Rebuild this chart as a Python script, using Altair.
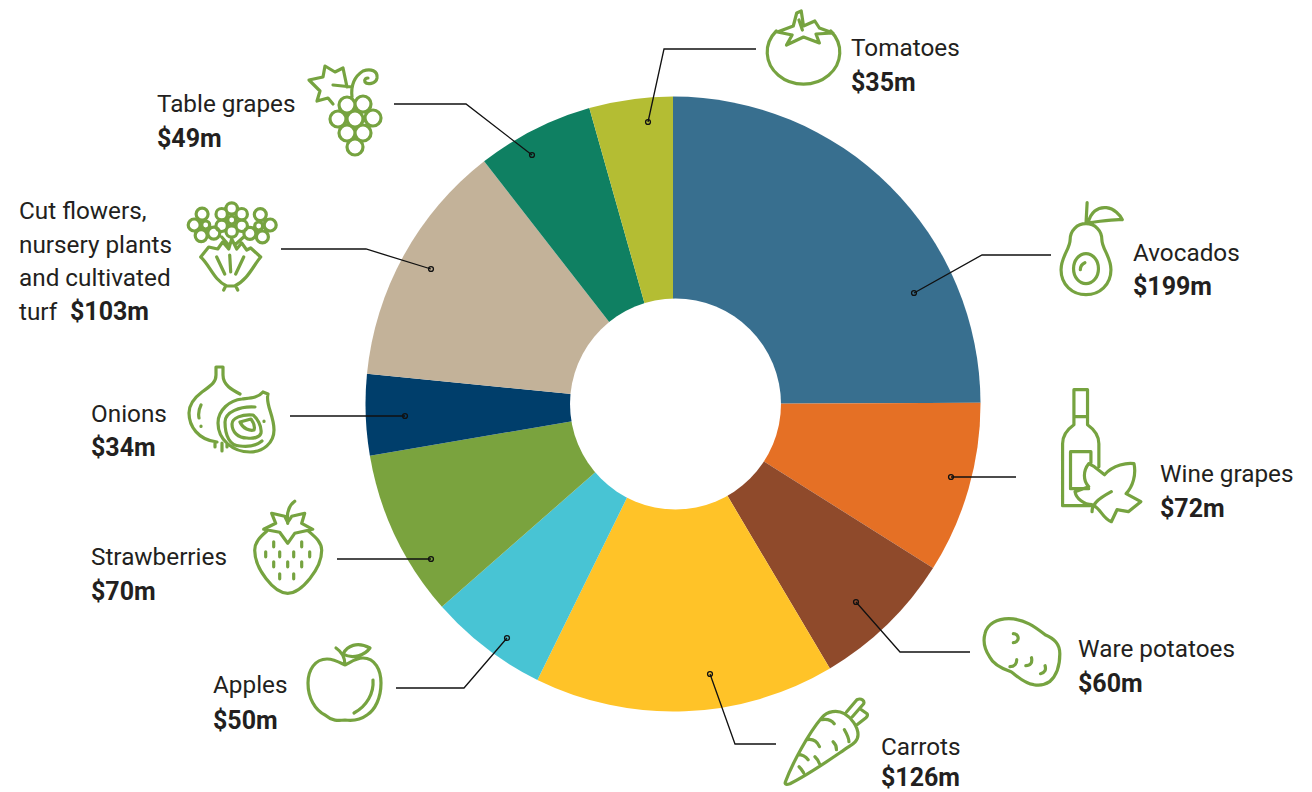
import math
import re
import altair as alt
import pandas as pd

# Segments, clockwise from twelve o'clock
crops = ["Avocados", "Wine grapes", "Ware potatoes", "Carrots", "Apples",
         "Strawberries", "Onions", "Cut flowers", "Table grapes", "Tomatoes"]
values = [199, 72, 60, 126, 50, 70, 34, 103, 49, 35]
colours = ["#386f8f", "#e57025", "#8f4a2b", "#ffc328", "#48c4d4",
           "#7aa33e", "#003e6b", "#c3b299", "#0f8062", "#b4bd33"]

# Text rows: string, left edge, baseline
regular_text = [
    ("Tomatoes", 851, 56), ("Avocados", 1133, 261), ("Wine grapes", 1160, 482),
    ("Ware potatoes", 1078, 657), ("Carrots", 881, 755), ("Apples", 213, 693),
    ("Strawberries", 91, 565), ("Onions", 91, 422), ("Table grapes", 157, 112),
    ("Cut flowers,", 19, 219), ("nursery plants", 19, 253),
    ("and cultivated", 19, 286), ("turf", 19, 320),
]
bold_text = [
    ("$35m", 851, 91), ("$199m", 1133, 295), ("$72m", 1160, 517),
    ("$60m", 1078, 692), ("$126m", 881, 786), ("$50m", 213, 729),
    ("$70m", 91, 600), ("$34m", 91, 456), ("$49m", 157, 147), ("$103m", 70, 320),
]

# Leader lines, each ending at the ring dot
leaders = {
    "Tomatoes": [(756, 49), (664, 49), (648, 122)],
    "Table grapes": [(394, 104), (466, 104), (532, 155)],
    "Cut flowers": [(281, 249), (366, 249), (431, 269)],
    "Onions": [(290, 416), (405, 416)],
    "Strawberries": [(337, 559), (431, 559)],
    "Apples": [(396, 688), (464, 688), (507, 638)],
    "Carrots": [(776, 744), (735, 744), (710, 674)],
    "Ware potatoes": [(970, 652), (900, 652), (856, 602)],
    "Wine grapes": [(1016, 477), (951, 477)],
    "Avocados": [(1051, 255), (982, 255), (914, 293)],
}


def circle(cx, cy, r):
    return f"M{cx - r} {cy} A{r} {r} 0 1 0 {cx + r} {cy} A{r} {r} 0 1 0 {cx - r} {cy} Z "


def flower(cx, cy, reach, petal, core, angles):
    d = circle(cx, cy, core)
    for deg in angles:
        a = math.radians(deg)
        d += circle(round(cx + reach * math.cos(a), 1), round(cy + reach * math.sin(a), 1), petal)
    return d


def widen(path, k):
    """Stretch an icon path horizontally by k."""
    out = []
    tokens = re.findall(r"[A-Za-z]|-?\d+\.?\d*", path)
    i = 0
    while i < len(tokens):
        cmd = tokens[i]
        i += 1
        count = {"M": 2, "L": 2, "C": 6, "H": 1, "V": 1, "A": 7, "Z": 0}[cmd]
        args = [float(t) for t in tokens[i:i + count]]
        i += count
        if cmd in "MLC":
            args = [a * k if j % 2 == 0 else a for j, a in enumerate(args)]
        elif cmd == "H":
            args = [args[0] * k]
        elif cmd == "A":
            args[0] *= k
            args[5] *= k
        out.append(cmd + " ".join(f"{a:.2f}".rstrip("0").rstrip(".") for a in args))
    return " ".join(out)


WIDE = 1.134

tomato = widen("M-24 -19 A32 32 0 1 0 24 -19 "
               "M-23 -18 L-9 -24 L-6 -37 L-2 -39 L0 -24 L10 -29 L14 -22 L26 -17 L11 -16 L14 -7 "
               "L0 -13 L-15 -5 L-10 -15 Z M-4 -30 L-1 -20", WIDE)
avocado = widen("M0 -33 C8 -33 14 -26 14 -17 C14 -8 22 0 22 13 C22 28 12 38 0 38 "
                "C-12 38 -22 28 -22 13 C-22 0 -14 -8 -14 -17 C-14 -26 -8 -33 0 -33 Z "
                "M-11 12 A11 15 0 1 0 11 12 A11 15 0 1 0 -11 12 Z M-5 13 C-5 9 -3 7 -1 6 "
                "M1 -54 L0 -33 M2 -34 C4 -44 10 -50 18 -49 C25 -48 30 -42 32 -37 C24 -38 12 -35 2 -34 Z", WIDE)
wine = widen("M-23 -67 H-11 V-40 H-23 Z M-23 -40 V-32 C-28 -28 -33 -22 -33 -13 V49 H-7 "
             "M-11 -40 V-32 C-6 -28 -1 -22 -1 -13 V10 M-8 6 V-5 H-26 V32 H-10 "
             "M4 18 L-5 10 L-10 7 C-15 14 -15 24 -10 30 L-22 35 C-21 42 -14 48 -7 48 "
             "C0 50 2 62 10 65 L15 53 L25 55 L36 45 L23 37 C29 30 32 18 30 7 C24 6 12 8 4 18 Z "
             "M-7 55 C-7 48 -3 43 10 35", WIDE)
potato = widen("M-12 -33 C2 -33 12 -24 20 -17 C28 -13 33 -8 33 2 C33 14 30 24 24 30 "
               "C20 33 14 34 10 33 C2 32 -4 25 -10 20 C-18 17 -26 12 -29 5 C-33 -2 -35 -10 -33 -18 "
               "C-31 -28 -22 -33 -12 -33 Z "
               "M-8 -18 C-5 -18 -3 -15 -4 -12 C-5 -10 -7 -9 -8 -9 "
               "M-11 15 C-7 15 -5 12 -5 8 M3 14 C7 14 9 11 8 6 M16 22 C20 21 21 18 20 14", WIDE)
carrot = widen("M-34 40 C-28 22 -14 -8 -2 -24 C3 -31 12 -32 18 -28 C24 -24 30 -15 30 -7 C30 -1 26 2 22 5 "
               "C10 14 -12 32 -30 42 C-33 43 -35 43 -34 40 Z "
               "M20 -30 L29 -42 C33 -44 36 -41 35 -38 L25 -25 M33 -32 L38 -28 C39 -26 38 -25 37 -24 L28 -16 "
               "M-2 -22 C3 -23 7 -21 9 -18 M-15 -2 C-10 -3 -6 0 -4 5 M-23 13 C-20 13 -16 15 -14 18 "
               "M8 0 C10 2 11 5 11 8 M18 -12 C20 -8 22 -4 22 0 M-8 15 C-6 17 -5 19 -4 22 M-22 25 C-20 27 -19 29 -18 31", WIDE)
apple = ("M0 -25 C6 -28 11 -32 18 -32 C30 -32 36 -20 36 -7 C36 8 30 20 22 25 C14 31 7 31 0 30 "
         "C-7 31 -13 31 -20 25 C-30 20 -37 8 -37 -7 C-37 -20 -30 -31 -18 -31 C-11 -31 -6 -28 0 -25 Z "
         "M0 -25 C0 -33 -3 -38 -9 -42 M-2 -36 C2 -44 12 -49 25 -42 C20 -35 8 -30 -2 -36 Z "
         "M28 -10 C29 3 22 16 9 23")
strawberry = ("M-21 -22 C-28 -16 -33 -11 -33 -3 C-33 15 -14 40 0 40 C14 40 34 15 34 -3 C34 -11 28 -16 21 -22 "
              "M-24 -24 L-12 -30 L-16 -40 L-3 -37 L0 -31 L4 -37 L17 -40 L14 -30 L25 -24 L7 -20 L0 -10 L-8 -21 Z "
              "M0 -30 C-1 -38 0 -47 7 -52 "
              + " ".join(f"M{x} {y - 2.5} V{y + 2.5}" for x, y in
                         [(-14, -9), (14, -9), (-22, 1), (-8, 1), (6, 1), (22, 1),
                          (-14, 11), (0, 11), (14, 11), (-8, 23), (6, 23)]))
onion = ("M10 -16 C2 -20 -7 -25 -7 -35 V-43 H-14 V-35 C-14 -27 -20 -24 -28 -18 C-36 -12 -41 -6 -41 3 "
         "C-41 16 -32 30 -13 32 M-15 33 V37 M-8 33 V41 M-3 33 V37 "
         "M-29 -5 C-31 -1 -32 3 -31 8 M-29 16 V16.5 "
         "M33 -18 L38 -16 C35 -6 44 5 44 20 C44 33 33 42 20 42 C3 42 -12 30 -12 13 C-12 0 0 -10 12 -11 "
         "C20 -12 28 -12 33 -18 Z "
         "M25 -3 C10 -4 -5 2 -5 12 C-5 26 0 36 10 36 C18 37 26 36 32 31 "
         "M23 5 C12 4 2 8 2 14 C2 22 8 28 17 28 C24 29 30 27 31 23 C32 16 27 8 23 5 Z "
         "M10 12 L21 9 C24 13 25 17 24 20 C20 21 13 19 10 12 Z M34 11 V11.5")
flowers = (flower(-26, -20, 11.5, 6, 4, [45, 113, 180, 252])
           + flower(27, -19, 11.5, 6, 4, [278, 355, 71, 140])
           + flower(0, -25, 11.5, 5.7, 4, [30, 90, 150, 210, 270, 330])
           + "M-31 12 L-23 2 L-14 4 L-9 -3 L-3 4 L0 -6 L5 4 L10 -2 L15 5 L19 3 L29 12 "
             "C22 20 16 35 3 41 H-5 C-18 35 -22 20 -31 12 Z "
             "M-15 12 L-7 29 M-2 10 L-1 27 M12 12 L4 29 M-6 41 L-8 45 M4 41 L6 45 "
             "M-10 -8 L-3 0 M12 -8 L3 0")
grapes = ("".join(circle(x, y, 8) for x, y in
                  [(-8, -5), (8, -6), (-17, 9), (0, 9), (18, 8), (-8, 23), (8, 23), (0, 37)])
          + "M-22 -6 L-27 -12 L-38 -9 L-35 -19 L-46 -30 L-32 -33 L-30 -44 L-20 -38 L-12 -42 L-8 -23 "
            "M-22 -25 L-3 -23 M-3 -13 C-4 -22 -3 -32 8 -39 C16 -42 23 -39 22 -32 C21 -26 12 -25 10 -28 C9 -31 11 -32 13 -32")

# Outline icons: path in pixels about its own centre, plus that centre
icons = [
    (tomato, 803.5, 50), (avocado, 1086, 256.7), (wine, 1100, 456.7),
    (potato, 1022.4, 651.7), (carrot, 824, 741.7), (apple, 345, 690),
    (strawberry, 287.7, 553.3), (onion, 230, 410), (flowers, 231.7, 245),
    (grapes, 355, 110),
]

FONT = "Roboto"
INK = "#231f20"
ICON_GREEN = "#76a340"

x_pos = alt.X("x:Q", scale=alt.Scale(domain=[0, 1312], nice=False, zero=False), axis=None)
y_pos = alt.Y("y:Q", scale=alt.Scale(domain=[792, 0], nice=False, zero=False), axis=None)

segments = pd.DataFrame({"crop": crops, "value": values, "seq": range(len(crops))})
ring = alt.Chart(segments).mark_arc(radius=307.5).encode(
    x=alt.value(673),
    y=alt.value(404),
    theta=alt.Theta("value:Q", stack=True, scale=alt.Scale(domain=[0, sum(values)], range=[0, 2 * math.pi])),
    order=alt.Order("seq:Q"),
    color=alt.Color("crop:N", scale=alt.Scale(domain=crops, range=colours), legend=None),
)

# White disc forming the hole of the ring
hole = alt.Chart(pd.DataFrame({"x": [675.5], "y": [404]})).mark_point(
    shape="circle", filled=True, size=44521, color="white", opacity=1
).encode(x=x_pos, y=y_pos)

leader_rows = [
    {"crop": name, "seq": i, "x": px, "y": py}
    for name, pts in leaders.items()
    for i, (px, py) in enumerate(pts)
]
leader_df = pd.DataFrame(leader_rows)
lines = alt.Chart(leader_df).mark_line(color="#111111", strokeWidth=1.3).encode(
    x=x_pos, y=y_pos, detail="crop:N", order="seq:Q"
)
ends = pd.DataFrame([{"x": pts[-1][0], "y": pts[-1][1]} for pts in leaders.values()])
dots = alt.Chart(ends).mark_point(
    filled=False, size=24, stroke="#111111", strokeWidth=1.3, opacity=1
).encode(x=x_pos, y=y_pos)

icon_df = pd.DataFrame(icons, columns=["path", "x", "y"])
icon_marks = alt.Chart(icon_df).mark_point(
    filled=False, size=4, stroke=ICON_GREEN, strokeWidth=3.2, opacity=1,
    strokeCap="round", strokeJoin="round",
).encode(x=x_pos, y=y_pos, shape=alt.Shape("path:N", scale=None))

regular = alt.Chart(pd.DataFrame(regular_text, columns=["t", "x", "y"])).mark_text(
    font=FONT, fontSize=24.3, align="left", baseline="alphabetic", color=INK
).encode(x=x_pos, y=y_pos, text="t:N")
bold = alt.Chart(pd.DataFrame(bold_text, columns=["t", "x", "y"])).mark_text(
    font=FONT, fontSize=25, fontWeight="bold", align="left", baseline="alphabetic", color=INK
).encode(x=x_pos, y=y_pos, text="t:N")

chart = alt.layer(ring, hole, lines, dots, icon_marks, regular, bold).resolve_scale(
    color="independent"
).properties(
    width=1312, height=792, padding=0, autosize=alt.AutoSizeParams(type="none"), background="white"
).configure_view(stroke=None)

chart.save("out.html", embed_options={"renderer": "svg", "actions": False})
